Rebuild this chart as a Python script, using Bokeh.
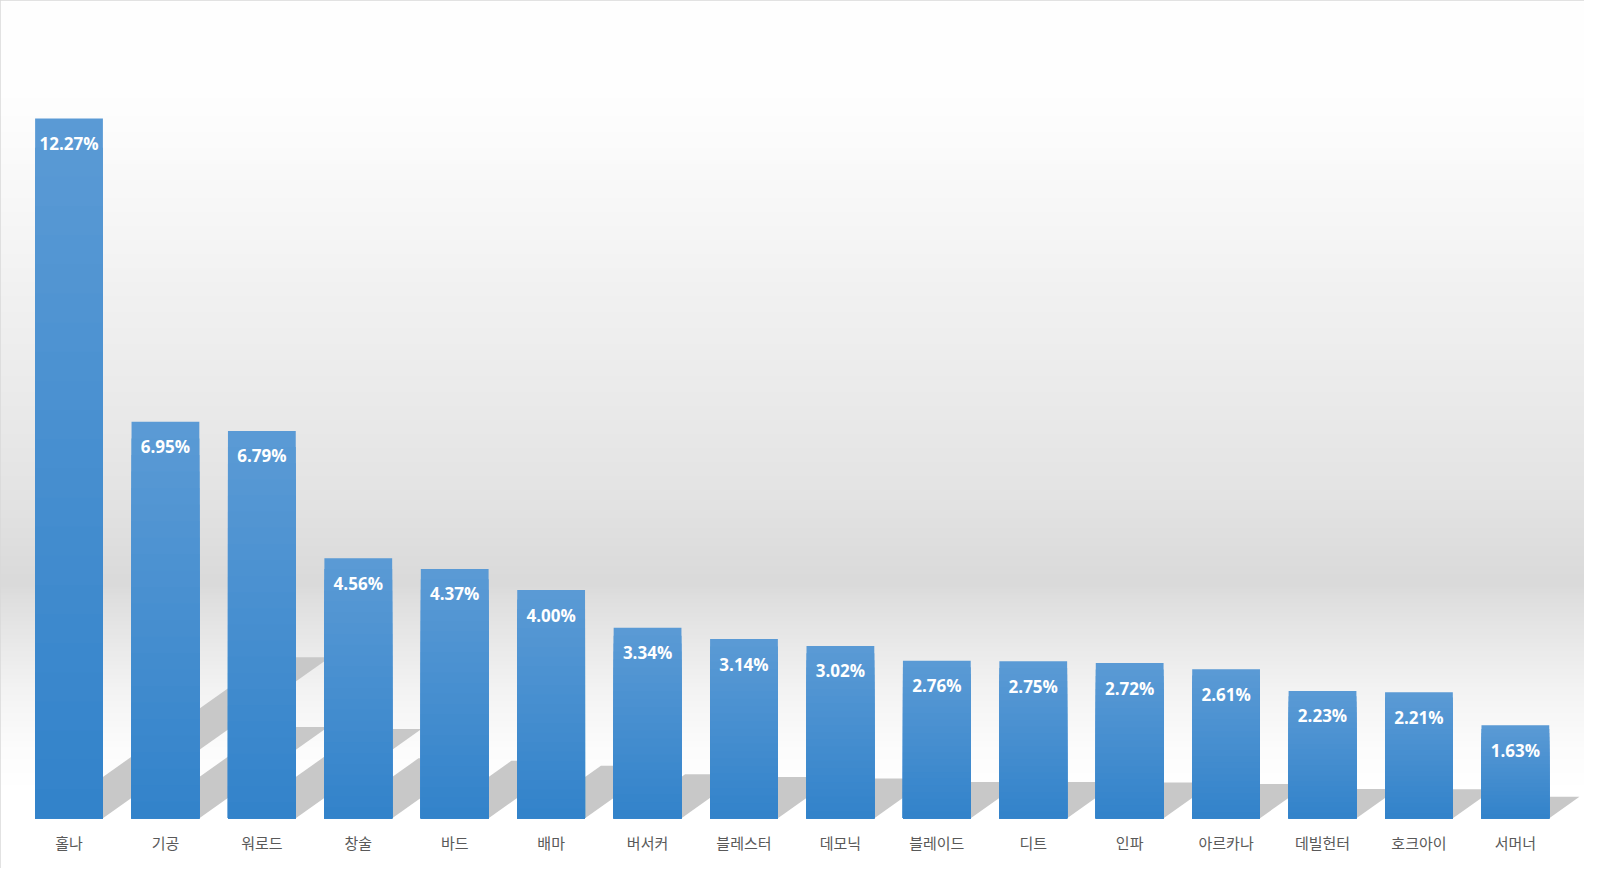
import numpy as np
from bokeh.plotting import figure
from bokeh.models import ColumnDataSource, Range1d
from bokeh.core.properties import value
from bokeh.embed import file_html
from bokeh.resources import INLINE

# class share (%)
classes = ["홀나", "기공", "워로드", "창술", "바드", "배마", "버서커", "블레스터",
           "데모닉", "블레이드", "디트", "인파", "아르카나", "데빌헌터", "호크아이", "서머너"]
shares = [12.27, 6.95, 6.79, 4.56, 4.37, 4.00, 3.34, 3.14,
          3.02, 2.76, 2.75, 2.72, 2.61, 2.23, 2.21, 1.63]
share_labels = ["%.2f%%" % v for v in shares]

idx = list(range(len(classes)))
BAR_W = 0.703
TOP_BLUE = np.array([91, 155, 213])
BOTTOM_BLUE = np.array([50, 130, 202])

p = figure(width=1584, height=868,
           x_range=Range1d(-0.7105, 15.717), y_range=Range1d(-0.883, 14.34),
           x_axis_location=None, y_axis_location=None,
           output_backend="svg", toolbar_location=None, min_border=0)
p.grid.visible = False
p.background_fill_color = "white"
p.border_fill_color = "white"
p.outline_line_color = "#d9d9d9"
p.outline_line_width = 2

# background: soft grey band fading to white above and below
stop_y = [-0.88, 0.56, 1.25, 2.29, 3.15, 3.92, 4.09, 5.73, 7.45, 9.17, 10.89, 12.62, 14.34]
stop_g = [255, 255, 252, 243, 232, 222, 218, 228, 235, 241, 248, 254, 255]
n_rows = 434
row_y = np.linspace(p.y_range.start, p.y_range.end, n_rows)
grey = np.interp(row_y, stop_y, stop_g).astype(np.uint8)
img = np.empty((n_rows, 1), dtype=np.uint32)
view = img.view(dtype=np.uint8).reshape((n_rows, 1, 4))
view[:, 0, 0] = grey
view[:, 0, 1] = grey
view[:, 0, 2] = grey
view[:, 0, 3] = 255
p.image_rgba(image=[img], x=p.x_range.start, y=p.y_range.start,
             dw=p.x_range.end - p.x_range.start, dh=p.y_range.end - p.y_range.start)

# slanted floor shadows behind the bars
sh_xs, sh_ys = [], []
for i, v in zip(idx, shares):
    xl = i - BAR_W / 2 + 0.1
    xr = i + BAR_W / 2
    d = 0.192 * v
    t = 0.23 * v
    sh_xs.append([xl, xr, xr + d, xl + d])
    sh_ys.append([0, 0, t, t])
p.patches(sh_xs, sh_ys, fill_color="#c8c8c8", line_color=None)

# bars with a vertical gradient, drawn as stacked shrinking bars
N = 24
seg_x, seg_top, seg_col = [], [], []
for k in range(N):
    f = 1 - k / N
    mid = f - 0.5 / N
    rgb = BOTTOM_BLUE + (TOP_BLUE - BOTTOM_BLUE) * mid
    col = "#%02x%02x%02x" % tuple(int(round(c)) for c in rgb)
    for i, v in zip(idx, shares):
        seg_x.append(i)
        seg_top.append(v * f)
        seg_col.append(col)
bars = ColumnDataSource(dict(x=seg_x, top=seg_top, color=seg_col))
p.vbar(x="x", bottom=0, top="top", width=BAR_W, fill_color="color", line_color=None, source=bars)

p.text(x=idx, y=shares, text=share_labels, y_offset=25,
       text_align="center", text_baseline="middle", text_color="white",
       text_font=value("Open Sans"), text_font_style="bold", text_font_size="17px")

p.text(x=idx, y=[0] * len(idx), text=classes, y_offset=24,
       text_align="center", text_baseline="middle", text_color="#595959",
       text_font=value("Noto Sans CJK KR"), text_font_size="15px")

open("out.html", "w").write(file_html(p, INLINE))
